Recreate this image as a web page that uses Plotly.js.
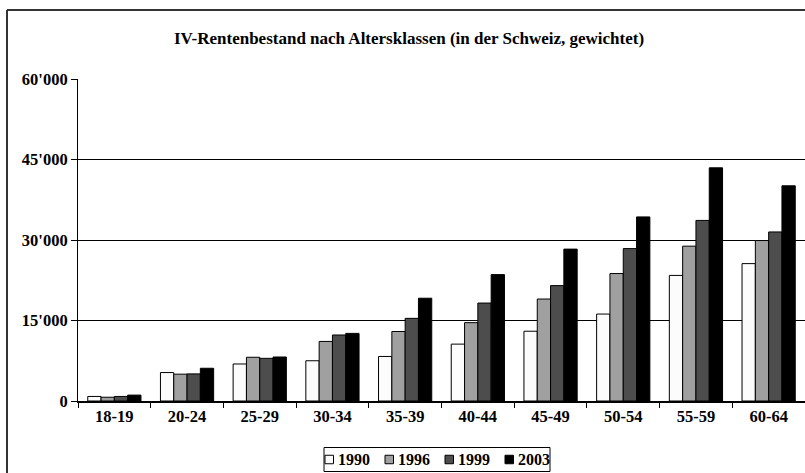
<!DOCTYPE html>
<html>
<head>
<meta charset="utf-8">
<script src="https://cdn.plot.ly/plotly-3.0.1.min.js"></script>
<style>
  html, body { margin: 0; padding: 0; background: #fff; }
  #chart { width: 805px; height: 473px; }
</style>
</head>
<body>
<div id="chart"></div>
<script>
// Age classes and weighted IV pension counts per survey year
const ageClasses = ['18-19', '20-24', '25-29', '30-34', '35-39', '40-44', '45-49', '50-54', '55-59', '60-64'];
const years = ['1990', '1996', '1999', '2003'];
const values1990 = [850, 5300, 6900, 7500, 8300, 10600, 13000, 16200, 23400, 25600];
const values1996 = [700, 5000, 8150, 11100, 12950, 14600, 19000, 23750, 28850, 29900];
const values1999 = [850, 5050, 7950, 12300, 15400, 18250, 21500, 28400, 33650, 31500];
const values2003 = [1100, 6100, 8200, 12600, 19150, 23550, 28300, 34300, 43450, 40100];
const yTickValues = [0, 15000, 30000, 45000, 60000];
const titleText = 'IV-Rentenbestand nach Altersklassen (in der Schweiz, gewichtet)';

const seriesValues = [values1990, values1996, values1999, values2003];
const fills = ['#fcfcfc', '#a0a0a0', '#4d4d4d', '#000000'];

const W = 805, H = 473;
const M = { l: 78, r: 0, t: 79, b: 72 };
const plotW = W - M.l - M.r, plotH = H - M.t - M.b;
// pixel -> paper coordinate helpers for decorations
const px = x => (x - M.l) / plotW;
const py = y => (H - M.b - y) / plotH;

const serif = 'Liberation Serif, Times New Roman, serif';

const traces = years.map((yr, i) => ({
  type: 'bar',
  name: yr,
  x: ageClasses,
  y: seriesValues[i],
  marker: { color: fills[i], line: { color: '#000', width: 1 } },
  hoverinfo: 'x+y+name'
}));

// frame around the whole chart (left and top edges visible)
const shapes = [
  { type: 'line', xref: 'paper', yref: 'paper', x0: px(7), x1: px(7), y0: py(H + 5), y1: py(10), line: { color: '#333', width: 2 } },
  { type: 'line', xref: 'paper', yref: 'paper', x0: px(7), x1: px(W + 5), y0: py(10), y1: py(10), line: { color: '#333', width: 2 } },
  // legend box
  { type: 'rect', xref: 'paper', yref: 'paper', x0: px(324), x1: px(550), y0: py(471.5), y1: py(447.5), line: { color: '#000', width: 1 }, fillcolor: '#fff' }
];
const annotations = [];
const legendStart = 325, legendStep = 60, legendY = 459.5, sq = 8.5;
years.forEach((yr, i) => {
  const x0 = legendStart + i * legendStep;
  shapes.push({ type: 'rect', xref: 'paper', yref: 'paper',
    x0: px(x0), x1: px(x0 + sq), y0: py(legendY + sq / 2), y1: py(legendY - sq / 2),
    fillcolor: fills[i], line: { color: '#000', width: 1 } });
  annotations.push({ xref: 'paper', yref: 'paper', x: px(x0 + sq + 2), y: py(legendY),
    xanchor: 'left', yanchor: 'middle', showarrow: false, text: yr,
    font: { family: serif, size: 16, color: '#000', weight: 'bold' } });
});

const layout = {
  width: W, height: H,
  margin: M,
  paper_bgcolor: '#fff', plot_bgcolor: '#fff',
  separators: ".'",
  showlegend: false,
  bargap: 0.268, bargroupgap: 0,
  barmode: 'group',
  title: {
    text: titleText,
    font: { family: serif, size: 17, color: '#000', weight: 'bold' },
    x: 409 / W, xanchor: 'center', xref: 'container',
    y: 1 - 38 / H, yanchor: 'middle', yref: 'container'
  },
  xaxis: {
    type: 'category',
    range: [-0.5, 9.5],
    showline: true, linecolor: '#000', linewidth: 1.5,
    ticks: 'outside', tickson: 'boundaries', ticklen: 5, tickcolor: '#000', tickwidth: 1,
    showgrid: false,
    tickfont: { family: serif, size: 16.5, color: '#000', weight: 'bold' },
    fixedrange: true
  },
  yaxis: {
    range: [0, 60000],
    tickvals: yTickValues,
    tickformat: ',d',
    showline: true, linecolor: '#000', linewidth: 1,
    ticks: 'outside', ticklen: 6, tickcolor: '#000', tickwidth: 1,
    showgrid: true, gridcolor: '#000', gridwidth: 1,
    zeroline: false,
    tickfont: { family: serif, size: 16.5, color: '#000', weight: 'bold' },
    fixedrange: true
  },
  shapes: shapes,
  annotations: annotations
};

Plotly.newPlot('chart', traces, layout, { displayModeBar: false, staticPlot: true });
</script>
</body>
</html>
